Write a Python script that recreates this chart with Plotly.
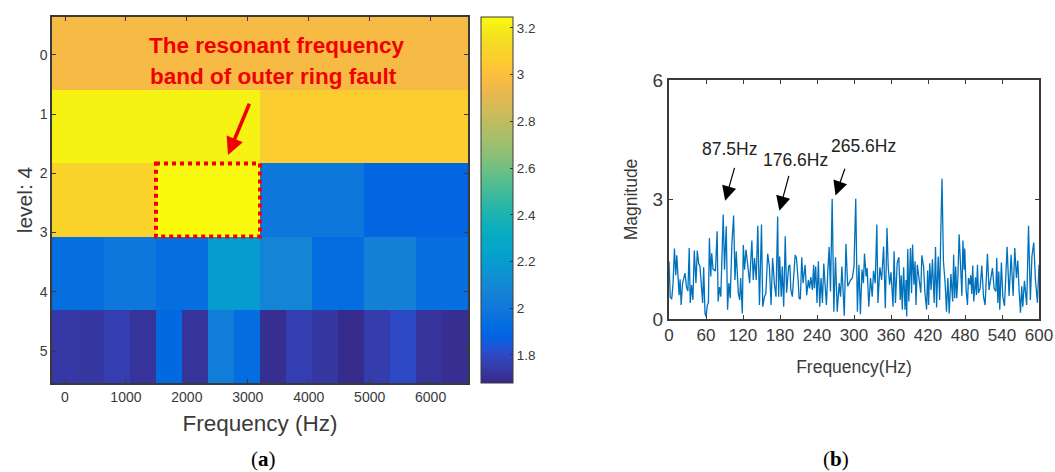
import numpy as np
import plotly.graph_objects as go

# ---- data (a)
level_rows = [
    [2.97],
    [3.22, 3.07],
    [3.10, 3.245, 1.99, 1.89],
    [1.94, 1.99, 1.94, 2.20, 2.07, 1.93, 2.05, 1.95],
    [1.74, 1.73, 1.76, 1.72, 1.91, 1.72, 2.03, 1.93, 1.70, 1.76, 1.73, 1.69, 1.75, 1.80, 1.72, 1.70],
]
band_hz = 6400 / 15
x_edges = [-band_hz / 2 + band_hz * i for i in range(17)]
y_lo, y_hi = -0.64, 5.54
y_edges = [y_lo + (y_hi - y_lo) * i / 5 for i in range(6)]
z = [list(np.repeat(r, 16 // len(r))) for r in level_rows]
cb_ticks = [1.8, 2.0, 2.2, 2.4, 2.6, 2.8, 3.0, 3.2]
cb_labels = ["1.8", "2", "2.2", "2.4", "2.6", "2.8", "3", "3.2"]

# ---- data (b)
freq_hz = [0,2,4.4,6.6,8.8,11,12.6,14.8,16.4,18,19.7,22,24,26,28.4,30.6,32.8,34.4,36.6,38.8,41,43.7,45.9,48,50.2,52.4,54.6,56.2,58.4,60,62.2,63.9,65.5,67.7,69.3,71.5,73.7,75.3,78,79.7,81.9,84,87.9,90,92.8,95,97.1,99.3,102,104.8,107,109,112.4,114.6,
 116.2,118.9,120.5,122.6,124.8,127,130.7,134.4,136.6,138.7,141.4,144,146.7,150,152,154.8,157,160,162.8,165.5,168,171,173.5,176.2,177.8,179.4,182,183.7,186,188.5,190.7,194,196,197.6,200,204.6,206.7,209.4,211,213,215.3,217.4,220.7,223.3,226,228,230,232.5,234.6,
 235.7,237.9,240,242.2,244.4,246.6,248.8,251,253.1,255.3,257.5,259.7,261.9,264.6,267.3,270,272.8,276,278.2,280.4,284.2,287,289.7,291.9,294.6,297.3,300,302.8,305.5,308,310.4,313,315.3,317,319.7,321.3,324,326.8,329.5,331.7,334.4,337,338.8,342,344.8,348,350.8,353.5,
 355.5,357.7,360,363.3,365,367.2,370,372.7,375,376.6,378.3,380.5,382.7,384.4,385.5,387.2,388.9,391.6,393.3,395,397.2,399,400.5,402.7,405.5,408.3,410,412.8,415,417.7,419.4,421,422.8,425,427.2,430,432.2,433.9,436.6,438.9,440.5,442.7,445,447.8,450,452.2,454.4,457.2,460,461.6,463.3,465,466.6,468.3,470.5,473.3,475,476.6,478.6,
 479.6,481.8,484,485.6,487.8,489.4,491,492.6,494.2,497,498.6,500.2,501.8,504.5,507.2,510,512.6,516.4,519,521.8,524.5,527.2,530,531.5,533.2,534.8,536.4,539,541.3,544,548.3,551.5,554.8,558,560.7,563.4,565.6,567.7,570,572,573.7,576.4,580,583,586,588.5,591.5,594.2,597.5,600]
magnitude = [1.45,.55,.5,.9,1.77,1.1,1.6,.85,.6,1.0,.35,.9,1.0,1.15,.8,.7,1.78,.4,.85,.48,1.72,.9,1.72,1.4,1.32,.9,.4,1.3,.14,.06,.35,.4,2.03,1.07,1.65,1.24,1.24,1.2,2.2,.44,.8,.56,2.62,1.24,2.33,.23,.9,.52,1.9,2.6,.98,1.7,.65,.48,
 1.03,.14,1.86,1.24,1.74,1.45,.9,1.97,.98,1.53,.98,2.34,.35,2.37,.31,.56,.63,1.64,1.32,.35,1.53,.86,.56,2.57,.56,1.57,.56,1.32,.31,2.08,.66,1.32,1.36,.73,.56,1.61,1.53,.98,.52,.5,1.55,.9,1.36,.6,.98,.77,1.05,.73,1.36,
 .77,1.32,.4,1.45,.31,1.03,.4,1.39,.86,.35,1.19,1.81,.69,3.02,.18,1.55,.18,.9,.56,1.32,.08,1.89,.82,.9,.98,1.03,1.32,3.02,.18,1.36,.12,1.24,.9,1.64,1.07,1.28,.31,1.03,.56,1.21,.9,2.37,.4,1.3,.98,1.82,.27,2.29,
 1.32,.86,1.17,.31,1.7,.4,1.4,1.55,.48,1.1,.23,1.3,.23,.98,.06,1.76,.44,1.78,.65,1.87,.86,1.45,.35,1.36,1.07,.66,1.6,1.32,.66,.24,1.22,.35,1.4,.73,1.5,.4,1.81,.29,1.57,.48,1.99,3.52,1.45,.9,.18,1.03,.14,1.13,.44,1.61,.52,1.32,.52,.98,2.13,1.15,.58,1.97,1.24,
 1.77,.73,.35,1.03,.86,1.1,.63,1.34,.44,1.05,.6,1.36,.65,.77,1.34,.56,.35,1.64,.73,1.07,1.28,.77,.69,1.53,.4,1.19,.23,1.42,.56,.33,1.81,.58,1.61,.58,1.78,1.03,1.47,.73,.16,.82,.31,.96,.35,2.34,.48,1.57,1.92,.98,.41,1.36]
xticks_b = list(range(0, 601, 60))

parula = [[.2081,.1663,.5292],[.2116,.1898,.5777],[.2123,.2138,.6270],[.2081,.2386,.6771],[.1959,.2645,.7279],[.1707,.2919,.7792],[.1253,.3242,.8303],[.0591,.3598,.8683],[.0117,.3875,.8820],[.0060,.4086,.8828],[.0165,.4266,.8786],[.0329,.4430,.8720],[.0498,.4586,.8641],[.0629,.4737,.8554],[.0723,.4887,.8467],[.0779,.5040,.8384],[.0793,.5200,.8312],[.0749,.5375,.8263],[.0641,.5570,.8240],[.0488,.5772,.8228],[.0343,.5966,.8199],[.0265,.6137,.8135],[.0239,.6287,.8038],[.0231,.6418,.7913],[.0228,.6535,.7768],[.0267,.6642,.7607],[.0384,.6743,.7436],[.0590,.6838,.7254],[.0843,.6928,.7062],[.1133,.7015,.6859],[.1453,.7098,.6646],[.1801,.7177,.6424],[.2178,.7250,.6193],[.2586,.7317,.5954],[.3022,.7376,.5712],[.3482,.7424,.5473],[.3953,.7459,.5244],[.4420,.7481,.5033],[.4871,.7491,.4840],[.5300,.7491,.4661],[.5709,.7485,.4494],[.6099,.7473,.4337],[.6473,.7456,.4188],[.6834,.7435,.4044],[.7184,.7411,.3905],[.7525,.7384,.3768],[.7858,.7356,.3633],[.8185,.7327,.3498],[.8507,.7299,.3360],[.8824,.7274,.3217],[.9139,.7258,.3063],[.9450,.7261,.2886],[.9739,.7314,.2666],[.9938,.7455,.2403],[.9990,.7653,.2164],[.9955,.7861,.1967],[.9880,.8066,.1794],[.9789,.8271,.1633],[.9697,.8481,.1475],[.9626,.8705,.1309],[.9589,.8949,.1132],[.9598,.9218,.0948],[.9661,.9514,.0755],[.9763,.9831,.0538]]
colorscale = [[i / 63, "rgb(%d,%d,%d)" % tuple(round(c * 255) for c in p)] for i, p in enumerate(parula)]

W, H = 1055, 472
def px(v): return v / W
def py(v): return 1 - v / H
SANS = "Liberation Sans, Arial, sans-serif"
INK = "#3a3a3a"
fig = go.Figure()
fig.add_trace(go.Heatmap(
    x=x_edges, y=y_edges, z=z, colorscale=colorscale, zmin=1.68, zmax=3.247,
    xaxis="x", yaxis="y", hoverinfo="skip",
    colorbar=dict(x=px(481), xanchor="left", xpad=0, ypad=0, y=py(17), yanchor="top",
                  len=366, lenmode="pixels", thickness=32, thicknessmode="pixels",
                  tickvals=cb_ticks, ticktext=cb_labels, ticks="inside", ticklen=3, tickcolor=INK,
                  outlinecolor=INK, outlinewidth=1,
                  tickfont=dict(family=SANS, size=13.5, color=INK)),
))
fig.add_trace(go.Scatter(x=freq_hz, y=magnitude, mode="lines", xaxis="x2", yaxis="y2",
                         line=dict(color="#0072BD", width=1.3), hoverinfo="skip", showlegend=False))

def ax(**kw):
    base = dict(showgrid=False, zeroline=False, showline=True, linecolor=INK, linewidth=1.5,
                mirror="allticks", ticks="inside", tickcolor=INK, layer="above traces")
    base.update(kw)
    return base

fig.update_layout(
    width=W, height=H, autosize=False, margin=dict(l=0, r=0, t=0, b=0, autoexpand=False),
    paper_bgcolor="white", plot_bgcolor="white", showlegend=False,
    xaxis=ax(domain=[px(52), px(468)], range=[x_edges[0], x_edges[-1]], tickvals=list(range(0, 6001, 1000)),
             ticklen=4, tickfont=dict(family=SANS, size=14, color=INK),
             title=dict(text="Frequency (Hz)", font=dict(family=SANS, size=22.5, color=INK), standoff=12)),
    yaxis=ax(domain=[py(383), py(17)], range=[y_hi, y_lo], tickvals=[0, 1, 2, 3, 4, 5],
             ticklen=4, tickfont=dict(family=SANS, size=14, color=INK),
             title=dict(text="level: 4", font=dict(family=SANS, size=21, color=INK), standoff=1)),
    xaxis2=ax(domain=[px(669), px(1039)], range=[0, 600], tickvals=xticks_b, anchor="y2", ticklen=4,
              linewidth=2, tickfont=dict(family=SANS, size=17, color=INK),
              title=dict(text="Frequency(Hz)", font=dict(family=SANS, size=17.5, color=INK), standoff=16)),
    yaxis2=ax(domain=[py(319), py(80)], range=[0, 6], tickvals=[0, 3, 6], anchor="x2", ticklen=4,
              linewidth=2, tickfont=dict(family=SANS, size=19, color=INK),
              title=dict(text="Magnitude", font=dict(family=SANS, size=17.5, color=INK), standoff=10)),
)

# highlighted band
fig.add_shape(type="rect", xref="x", yref="y", x0=x_edges[4], x1=x_edges[8], y0=y_edges[2], y1=y_edges[3],
              line=dict(color="#F00000", width=4, dash="dot"))

C = dict(xanchor="center", yanchor="middle")
anns = [
    dict(xref="x", yref="y", x=3479, y=-0.167, text="<b>The resonant frequency</b>", showarrow=False,
         font=dict(family=SANS, size=22.5, color="#F00000"), **C),
    dict(xref="x", yref="y", x=3422, y=0.357, text="<b>band of outer ring fault</b>", showarrow=False,
         font=dict(family=SANS, size=22.5, color="#F00000"), **C),
    dict(xref="x", yref="y", axref="x", ayref="y", x=2675, y=1.69, ax=3036, ay=0.8, text="", showarrow=True,
         arrowhead=2, arrowsize=1, arrowwidth=3.5, arrowcolor="#F00000"),
    dict(xref="paper", yref="paper", x=px(263), y=py(459), text="(<b>a</b>)", showarrow=False,
         font=dict(family="Liberation Serif, serif", size=21, color="black"), **C),
    dict(xref="paper", yref="paper", x=px(836), y=py(459), text="(<b>b</b>)", showarrow=False,
         font=dict(family="Liberation Serif, serif", size=21, color="black"), **C),
]
for txt, tx, ty, hx, hy, sx, sy in [
    ("87.5Hz", 97.6, 4.26, 91, 2.97, 107, 3.83),
    ("176.6Hz", 205, 3.98, 179, 2.72, 195, 3.63),
    ("265.6Hz", 315, 4.34, 270, 3.10, 286, 3.81),
]:
    anns.append(dict(xref="x2", yref="y2", x=tx, y=ty, text=txt, showarrow=False,
                     font=dict(family=SANS, size=17.5, color="#222222"), **C))
    anns.append(dict(xref="x2", yref="y2", axref="x2", ayref="y2", x=hx, y=hy, ax=sx, ay=sy, text="",
                     showarrow=True, arrowhead=2, arrowsize=2.4, arrowwidth=1.2, arrowcolor="black"))
fig.update_layout(annotations=anns)
fig.write_html("out.html", config={"displayModeBar": False}, post_script="document.body.style.margin='0';")
